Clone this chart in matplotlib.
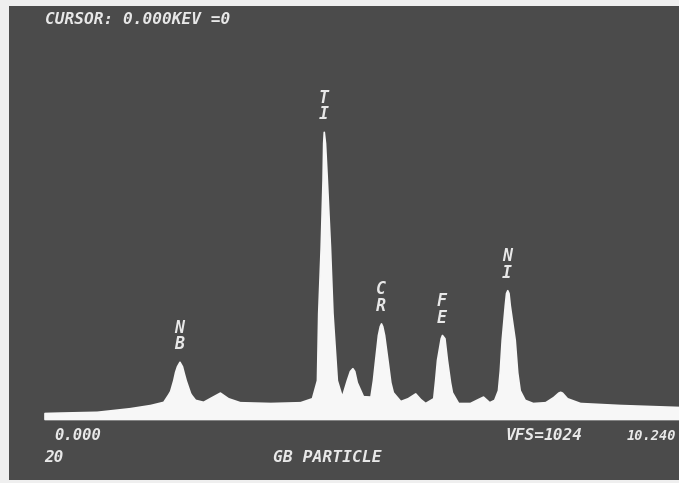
import matplotlib
matplotlib.use("Agg")
import matplotlib.pyplot as plt
import numpy as np

# X-ray spectrum of a grain-boundary particle (energy in keV, counts per channel)
energy_kev = [0.00, 0.25, 0.84, 1.37, 1.70, 1.91, 1.99, 2.02, 2.07, 2.10, 2.13,
              2.17, 2.21, 2.24, 2.27, 2.34, 2.36, 2.42, 2.55, 2.69, 2.82, 2.95,
              3.14, 3.63, 4.11, 4.30, 4.38, 4.40, 4.44, 4.47, 4.48, 4.49, 4.51,
              4.54, 4.59, 4.63, 4.70, 4.78, 4.86, 4.91, 4.95, 4.98, 5.02, 5.12,
              5.24, 5.28, 5.31, 5.36, 5.39, 5.41, 5.43, 5.46, 5.52, 5.56, 5.60,
              5.72, 5.84, 5.96, 6.04, 6.12, 6.25, 6.28, 6.31, 6.37, 6.39, 6.43,
              6.47, 6.52, 6.55, 6.65, 6.84, 6.97, 7.05, 7.15, 7.23, 7.29, 7.32,
              7.35, 7.40, 7.42, 7.44, 7.46, 7.48, 7.56, 7.60, 7.64, 7.72, 7.85,
              8.05, 8.18, 8.26, 8.29, 8.32, 8.40, 8.61, 9.25, 10.20, 10.24]
counts = [15, 16, 18, 27, 35, 43, 62, 70, 97, 118, 132,
          143, 132, 114, 97, 65, 60, 48, 43, 55, 66, 52,
          42, 40, 42, 52, 97, 265, 430, 597, 690, 718, 690,
          597, 430, 265, 97, 56, 97, 120, 127, 120, 92, 57,
          56, 97, 140, 210, 232, 239, 232, 210, 140, 92, 67,
          45, 52, 64, 50, 40, 52, 97, 148, 202, 210, 202,
          148, 92, 67, 40, 40, 50, 56, 42, 48, 72, 122,
          198, 285, 315, 322, 315, 285, 198, 117, 72, 48, 40,
          42, 55, 66, 68, 66, 52, 40, 35, 30, 30]

# Element markers placed over their peaks
peak_labels = ["NB", "TI", "CR", "FE", "NI"]
peak_kev = [2.17, 4.49, 5.41, 6.39, 7.44]

W, H = 679, 483
DPI = 100
SCREEN = "#4b4b4b"
INK = "#e8e8e8"
FONT = dict(family="DejaVu Sans Mono", style="oblique", color=INK)

fig = plt.figure(figsize=(W / DPI, H / DPI), dpi=DPI, facecolor="#efefef")

# display area in pixels: left 9, right 679, top 6, bottom 480
left_px, right_px, top_px, bot_px = 9, 679, 6, 480
ax = fig.add_axes([left_px / W, 1 - bot_px / H,
                   (right_px - left_px) / W, (bot_px - top_px) / H])
ax.set_facecolor(SCREEN)

# horizontal scale: 0 keV at x=44.5 px, 62.2 px per keV
# vertical scale: zero counts at y=419 px, 2.5 counts per px
x0, ppk = 44.5, 62.2
y0, cpp = 419.0, 2.5
ax.set_xlim((left_px - x0) / ppk, (right_px - x0) / ppk)
ax.set_ylim((y0 - bot_px) * cpp, (y0 - top_px) * cpp)
for s in ax.spines.values():
    s.set_visible(False)
ax.set_xticks([])
ax.set_yticks([])

ax.fill_between(energy_kev, 0, counts, color="#f7f7f7", lw=1.2,
                edgecolor="#f7f7f7", zorder=2)

for name, e in zip(peak_labels, peak_kev):
    top = np.interp(e, energy_kev, counts)
    ax.annotate("\n".join(name), xy=(e, top), xytext=(0, 6),
                textcoords="offset points", ha="center", va="bottom",
                fontsize=12, linespacing=0.9, fontweight="bold", **FONT)


def screen_text(x, y, s, size=11, weight="bold", ha="left"):
    fig.text(x / W, 1 - y / H, s, fontsize=size, fontweight=weight,
             ha=ha, va="center", **FONT)


screen_text(45, 19, "CURSOR: 0.000KEV =0", size=11.6)
screen_text(54, 436, "0.000", size=11.2)
screen_text(44, 457, "20", size=11.5)
screen_text(273, 458, "GB PARTICLE", size=11.8)
screen_text(505, 436, "VFS=", size=11.6)
screen_text(544, 436, "1024", size=11.6)
screen_text(627, 436, "10.240", size=9.8)

fig.savefig("out.png", dpi=DPI, facecolor=fig.get_facecolor())
